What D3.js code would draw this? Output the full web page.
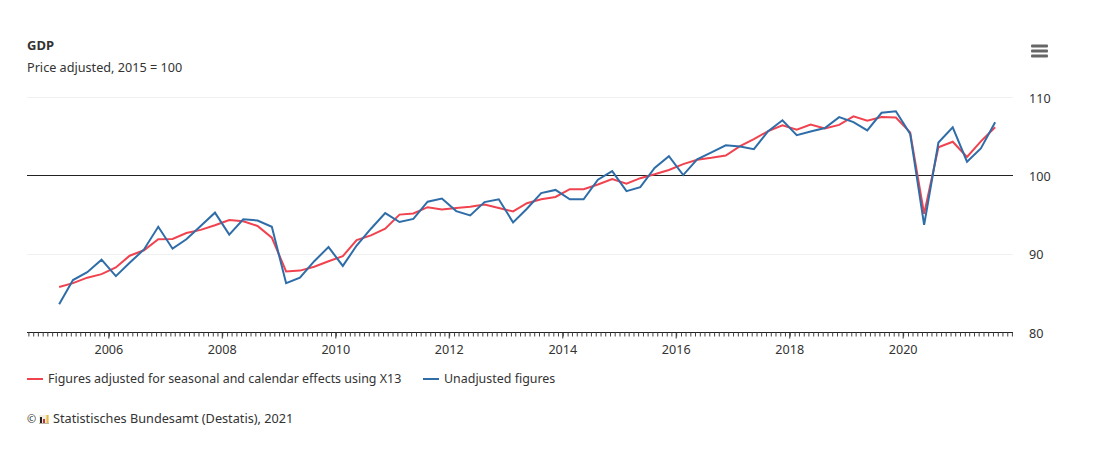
<!DOCTYPE html>
<html>
<head>
<meta charset="utf-8">
<title>GDP</title>
<script src="https://cdn.jsdelivr.net/npm/d3@7"></script>
<style>
  html, body { margin: 0; background: #fff; }
  svg { display: block; font-family: "Noto Sans", sans-serif; }
</style>
</head>
<body>
<svg id="chart" width="1096" height="464"></svg>
<script>
// quarter, 2005 Q1 to 2021 Q3
const quarters = [
  "2005-Q1","2005-Q2","2005-Q3","2005-Q4","2006-Q1","2006-Q2","2006-Q3","2006-Q4",
  "2007-Q1","2007-Q2","2007-Q3","2007-Q4","2008-Q1","2008-Q2","2008-Q3","2008-Q4",
  "2009-Q1","2009-Q2","2009-Q3","2009-Q4","2010-Q1","2010-Q2","2010-Q3","2010-Q4",
  "2011-Q1","2011-Q2","2011-Q3","2011-Q4","2012-Q1","2012-Q2","2012-Q3","2012-Q4",
  "2013-Q1","2013-Q2","2013-Q3","2013-Q4","2014-Q1","2014-Q2","2014-Q3","2014-Q4",
  "2015-Q1","2015-Q2","2015-Q3","2015-Q4","2016-Q1","2016-Q2","2016-Q3","2016-Q4",
  "2017-Q1","2017-Q2","2017-Q3","2017-Q4","2018-Q1","2018-Q2","2018-Q3","2018-Q4",
  "2019-Q1","2019-Q2","2019-Q3","2019-Q4","2020-Q1","2020-Q2","2020-Q3","2020-Q4",
  "2021-Q1","2021-Q2","2021-Q3"
];
const adjusted = [
  85.8,86.3,87.0,87.45,88.3,89.8,90.5,91.9,
  91.95,92.7,93.1,93.7,94.35,94.2,93.6,92.1,
  87.8,87.9,88.4,89.1,89.75,91.8,92.4,93.25,
  95.05,95.2,96.0,95.7,95.9,96.05,96.35,95.9,
  95.45,96.5,97.0,97.3,98.3,98.3,98.9,99.6,
  99.0,99.7,100.2,100.75,101.5,102.05,102.3,102.6,
  103.8,104.7,105.7,106.45,105.9,106.55,106.05,106.5,
  107.6,107.05,107.5,107.45,105.55,95.15,103.65,104.35,
  102.4,104.4,106.2
];
const unadjusted = [
  83.6,86.7,87.7,89.3,87.2,88.9,90.6,93.5,
  90.7,91.9,93.6,95.3,92.5,94.45,94.3,93.5,
  86.3,87.0,89.1,90.9,88.5,91.1,93.25,95.25,
  94.1,94.5,96.7,97.1,95.5,94.95,96.65,97.0,
  94.05,95.8,97.8,98.2,97.0,97.0,99.5,100.6,
  98.05,98.55,101.0,102.5,100.1,102.1,103.0,103.9,
  103.75,103.4,105.7,107.1,105.2,105.65,106.1,107.5,
  106.85,105.8,108.05,108.25,105.35,93.75,104.25,106.2,
  101.8,103.5,106.85
];
const yTicks = [80, 90, 100, 110];
const yearLabels = [2006, 2008, 2010, 2012, 2014, 2016, 2018, 2020];

const colors = { adjusted: "#f0434f", unadjusted: "#2f6da8", text: "#333333" };
const margin = { left: 27, right: 1013, top: 97.5, bottom: 332.5 };

const svg = d3.select("#chart");

// middle of the quarter
const quarterDate = q => new Date(+q.slice(0, 4), (+q.slice(6) - 1) * 3 + 1, 15);

const x = d3.scaleTime()
  .domain([new Date(2004, 6, 25), new Date(2021, 11, 8)])
  .range([margin.left + 0.3, margin.right]);
const y = d3.scaleLinear().domain([80, 110]).range([margin.bottom, margin.top]);
const snap = v => Math.floor(v) + 0.5;

// grid
svg.append("g").selectAll("line").data(yTicks.filter(d => d > 80)).join("line")
  .attr("x1", margin.left).attr("x2", margin.right)
  .attr("y1", d => snap(y(d))).attr("y2", d => snap(y(d)))
  .attr("stroke", d => d === 100 ? "#222222" : "#f0f0f0")
  .attr("stroke-width", 1);

// x axis, one tick per month
const xAxis = svg.append("g").attr("transform", `translate(0,${margin.bottom})`);
xAxis.call(d3.axisBottom(x).ticks(d3.timeMonth.every(1)).tickSize(4).tickFormat(""));
xAxis.select(".domain").attr("stroke", "#222222").attr("d", `M${margin.left},0H${margin.right}`);
xAxis.selectAll(".tick line").attr("stroke", "#444444").attr("y1", 0);

// longer tick and label on the even years
const yearTicks = svg.append("g").attr("transform", `translate(0,${margin.bottom})`)
  .selectAll("g").data(yearLabels).join("g")
  .attr("transform", d => `translate(${x(new Date(d, 0, 1))},0)`);
yearTicks.append("line").attr("y1", 0).attr("y2", 6).attr("stroke", "#333333");
yearTicks.append("text").attr("y", 21).attr("text-anchor", "middle")
  .attr("font-size", 12.6).attr("fill", colors.text).text(d => d);

// y labels on the right
svg.append("g").selectAll("text").data(yTicks).join("text")
  .attr("x", 1029).attr("y", d => y(d) + 5)
  .attr("font-size", 12.6).attr("fill", colors.text).text(d => d);

const line = d3.line().x((d, i) => x(quarterDate(quarters[i]))).y(d => y(d));

svg.append("path").datum(adjusted).attr("d", line)
  .attr("fill", "none").attr("stroke", colors.adjusted).attr("stroke-width", 2);
svg.append("path").datum(unadjusted).attr("d", line)
  .attr("fill", "none").attr("stroke", colors.unadjusted).attr("stroke-width", 2);

// title
svg.append("text").attr("x", 27).attr("y", 49.5)
  .attr("font-size", 13).attr("font-weight", 700).attr("fill", colors.text).text("GDP");
svg.append("text").attr("x", 27).attr("y", 71.5)
  .attr("font-size", 12.65).attr("fill", colors.text).text("Price adjusted, 2015 = 100");

// legend
const legend = svg.append("g");
legend.append("line").attr("x1", 27).attr("x2", 43).attr("y1", 379).attr("y2", 379)
  .attr("stroke", colors.adjusted).attr("stroke-width", 2);
legend.append("text").attr("x", 48).attr("y", 383)
  .attr("font-size", 12.45).attr("fill", colors.text)
  .text("Figures adjusted for seasonal and calendar effects using X13");
legend.append("line").attr("x1", 423).attr("x2", 439).attr("y1", 379).attr("y2", 379)
  .attr("stroke", colors.unadjusted).attr("stroke-width", 2);
legend.append("text").attr("x", 444).attr("y", 383)
  .attr("font-size", 12.45).attr("fill", colors.text).text("Unadjusted figures");

// credits with the small bar logo
svg.append("text").attr("x", 27).attr("y", 423)
  .attr("font-size", 11).attr("fill", colors.text).text("©");
const logo = svg.append("g");
logo.append("rect").attr("x", 39).attr("y", 415).attr("width", 10).attr("height", 9).attr("fill", "#f3efe0");
logo.append("rect").attr("x", 39).attr("y", 423).attr("width", 10).attr("height", 1).attr("fill", "#b9b3a0");
logo.append("rect").attr("x", 40).attr("y", 417).attr("width", 2).attr("height", 6).attr("fill", "#222222");
logo.append("rect").attr("x", 43).attr("y", 419).attr("width", 2).attr("height", 4).attr("fill", "#c8323c");
logo.append("rect").attr("x", 46.5).attr("y", 415).attr("width", 2).attr("height", 8).attr("fill", "#e8b93a");
svg.append("text").attr("x", 53).attr("y", 423)
  .attr("font-size", 12.7).attr("fill", colors.text).text("Statistisches Bundesamt (Destatis), 2021");

// menu button
svg.append("g").selectAll("rect").data([0, 1, 2]).join("rect")
  .attr("x", 1031).attr("y", d => 44.5 + d * 5).attr("width", 17).attr("height", 3)
  .attr("rx", 1).attr("fill", "#666666");
</script>
</body>
</html>
